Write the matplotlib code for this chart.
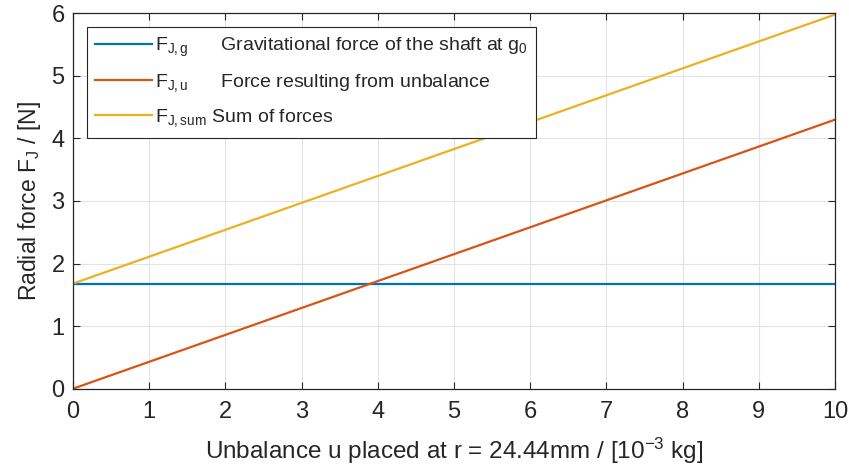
import matplotlib
matplotlib.use("Agg")
import matplotlib.pyplot as plt

fam = "Liberation Sans"
plt.rcParams['font.family'] = [fam, 'DejaVu Sans']
plt.rcParams['mathtext.fontset'] = 'custom'
plt.rcParams['mathtext.rm'] = fam
plt.rcParams['mathtext.it'] = fam

# data
u = [0, 10]
F_g = [1.68, 1.68]
F_u = [0.0, 4.30]
F_sum = [1.68, 5.98]
labels = [r"$\mathregular{F_{J,g}}$" + "      Gravitational force of the shaft at " + r"$\mathregular{g_0}$",
          r"$\mathregular{F_{J,u}}$" + "      Force resulting from unbalance",
          r"$\mathregular{F_{J,sum}}$" + " Sum of forces"]
colors = ["#0072BD", "#D95319", "#EDB120"]

fig = plt.figure(figsize=(8.49, 4.70), dpi=100)
ax = fig.add_axes([0.086, 0.173, 0.8975, 0.7987])
for y, c, l in zip([F_g, F_u, F_sum], colors, labels):
    ax.plot(u, y, color=c, lw=1.6, label=l)

ax.set_xlim(0, 10)
ax.set_ylim(0, 6)
ax.set_xticks(range(0, 11))
ax.set_yticks(range(0, 7))
ax.grid(True, color="#e3e3e3", lw=0.8)
ax.set_axisbelow(True)
for s in ax.spines.values():
    s.set_color("#262626")
    s.set_linewidth(0.9)
ax.tick_params(direction="in", top=True, right=True, length=5, width=0.8,
               colors="#262626", labelsize=17)
ax.tick_params(axis="x", pad=9)
ax.tick_params(axis="y", pad=6)
ax.set_xlabel(r"Unbalance u placed at r = 24.44mm / [10$^{\mathregular{-3}}$ kg]",
              fontsize=17.5, color="#262626", labelpad=9)
ax.set_ylabel(r"Radial force $\mathregular{F_J}$ / [N]", fontsize=16.5, color="#262626", labelpad=6)

leg = ax.legend(loc="upper left", fontsize=14, handlelength=2.9, handletextpad=0.15,
                borderaxespad=0.7, fancybox=False, framealpha=1, edgecolor="#262626",
                labelspacing=0.68, borderpad=0.45)
leg.get_frame().set_linewidth(0.8)
for t in leg.get_texts():
    t.set_color("#262626")

fig.savefig("out.png", dpi=100)
